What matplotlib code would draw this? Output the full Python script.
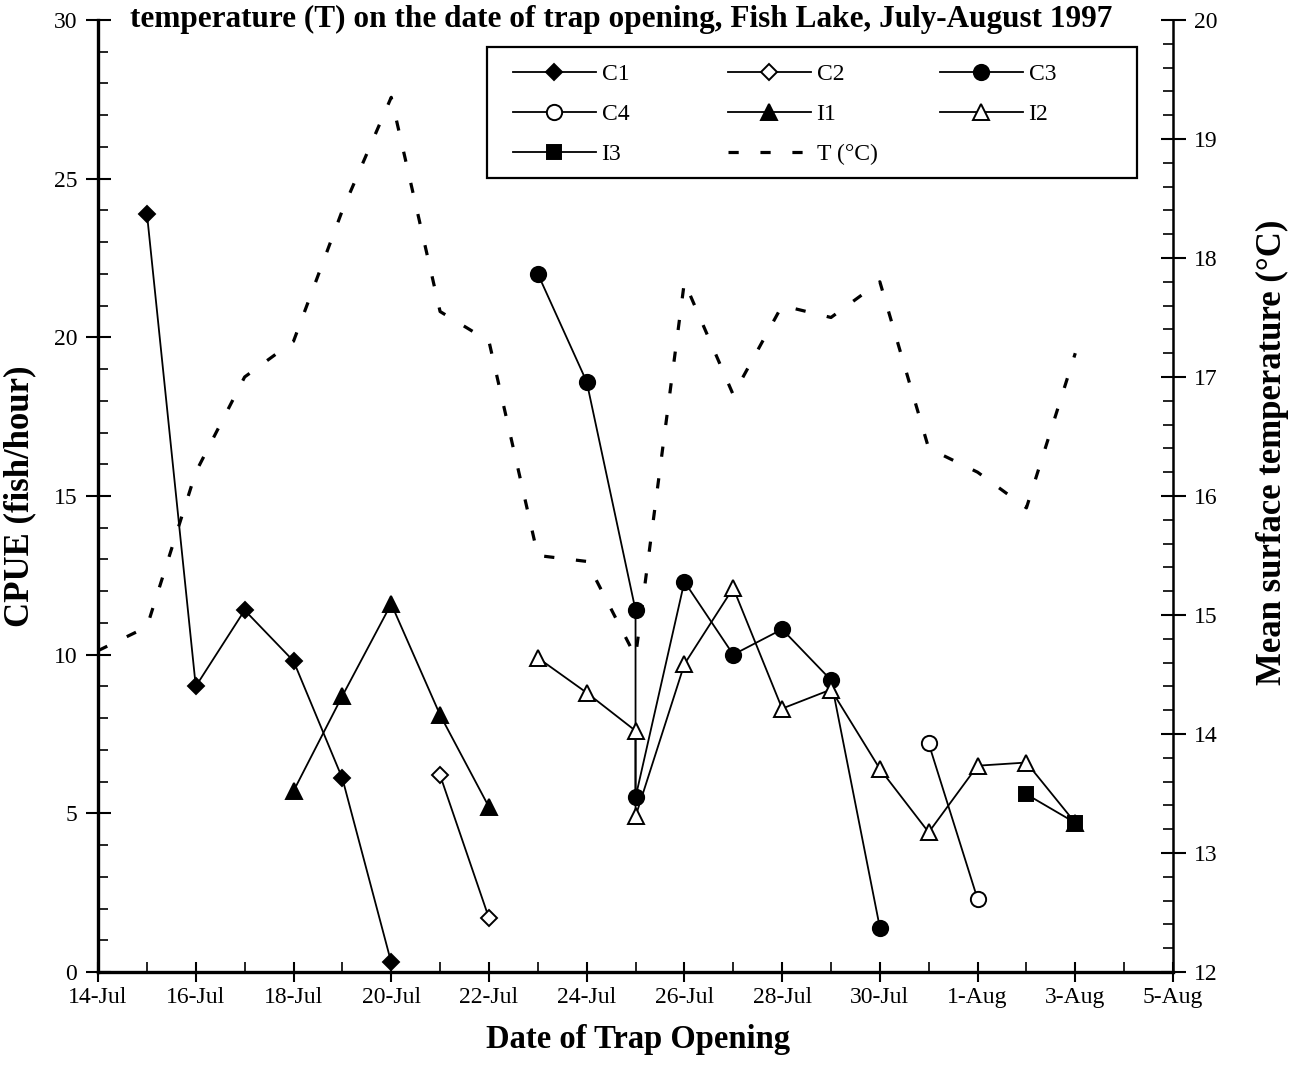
import matplotlib
matplotlib.use('Agg')
import matplotlib.pyplot as plt
from matplotlib.ticker import MultipleLocator, FixedLocator
from matplotlib.patches import Rectangle
import matplotlib.dates as mdates
import pandas as pd

plt.rcParams['font.family'] = ['Liberation Serif', 'DejaVu Serif']

# CPUE (fish/hour) per trap, by date of trap opening
C1_DATES = ['1997-07-15', '1997-07-16', '1997-07-17', '1997-07-18', '1997-07-19', '1997-07-20']
C1_CPUE = [23.9, 9.0, 11.4, 9.8, 6.1, 0.3]

C2_DATES = ['1997-07-21', '1997-07-22']
C2_CPUE = [6.2, 1.7]

C3_DATES = ['1997-07-23', '1997-07-24', '1997-07-25', '1997-07-25', '1997-07-26',
            '1997-07-27', '1997-07-28', '1997-07-29', '1997-07-30']
C3_CPUE = [22.0, 18.6, 11.4, 5.5, 12.3, 10.0, 10.8, 9.2, 1.4]

C4_DATES = ['1997-07-31', '1997-08-01']
C4_CPUE = [7.2, 2.3]

I1_DATES = ['1997-07-18', '1997-07-19', '1997-07-20', '1997-07-21', '1997-07-22']
I1_CPUE = [5.7, 8.7, 11.6, 8.1, 5.2]

I2_DATES = ['1997-07-23', '1997-07-24', '1997-07-25', '1997-07-25', '1997-07-26',
            '1997-07-27', '1997-07-28', '1997-07-29', '1997-07-30', '1997-07-31',
            '1997-08-01', '1997-08-02', '1997-08-03']
I2_CPUE = [9.9, 8.8, 7.6, 4.9, 9.7, 12.1, 8.3, 8.9, 6.4, 4.4, 6.5, 6.6, 4.7]

I3_DATES = ['1997-08-02', '1997-08-03']
I3_CPUE = [5.6, 4.7]

# mean surface temperature (deg C)
T_DATES = pd.date_range('1997-07-14', '1997-08-03', freq='D')
T_VALUES = [14.7, 14.9, 16.2, 17.0, 17.3, 18.4, 19.35, 17.55, 17.3, 15.5, 15.45,
            14.65, 17.8, 16.85, 17.6, 17.5, 17.8, 16.4, 16.2, 15.9, 17.2]

TICK_DATES = pd.date_range('1997-07-14', '1997-08-05', freq='2D')
TICK_LABELS = [f'{d.day}-{d:%b}' for d in TICK_DATES]

SERIES = [
    ('C1', C1_DATES, C1_CPUE, 'D', True, 8.5),
    ('C2', C2_DATES, C2_CPUE, 'D', False, 8.5),
    ('C3', C3_DATES, C3_CPUE, 'o', True, 11),
    ('C4', C4_DATES, C4_CPUE, 'o', False, 11),
    ('I1', I1_DATES, I1_CPUE, '^', True, 11),
    ('I2', I2_DATES, I2_CPUE, '^', False, 11),
    ('I3', I3_DATES, I3_CPUE, 's', True, 10),
]

fig = plt.figure(figsize=(12.92, 10.86), dpi=100)
fig.patch.set_facecolor('white')
ax = fig.add_axes([0.0759, 0.105, 0.832, 0.8766])
ax2 = ax.twinx()

handles = {}
for name, dates, vals, mk, filled, ms in SERIES:
    line, = ax.plot(pd.to_datetime(dates), vals, color='black', lw=1.3,
                    marker=mk, ms=ms, mfc='black' if filled else 'white',
                    mec='black', mew=1.4, label=name, zorder=3)
    handles[name] = line

t_line, = ax2.plot(T_DATES, T_VALUES, color='black', lw=2.3,
                   linestyle=(0, (3.2, 6.8)), label='T (°C)')
handles['T'] = t_line

# axes ranges and ticks
ax.set_xlim(pd.Timestamp('1997-07-14'), pd.Timestamp('1997-08-05'))
ax.set_ylim(0, 30)
ax2.set_ylim(12, 20)

ax.xaxis.set_major_locator(FixedLocator(mdates.date2num(TICK_DATES)))
ax.set_xticklabels(TICK_LABELS)
ax.xaxis.set_minor_locator(FixedLocator(mdates.date2num(
    pd.date_range('1997-07-14', '1997-08-05', freq='D'))))
ax.yaxis.set_major_locator(MultipleLocator(5))
ax.yaxis.set_minor_locator(MultipleLocator(1))
ax2.yaxis.set_major_locator(MultipleLocator(1))
ax2.yaxis.set_minor_locator(MultipleLocator(0.2))

for a in (ax, ax2):
    a.tick_params(which='major', direction='inout', length=18, width=1.5,
                  labelsize=17, color='black')
    a.tick_params(which='minor', direction='in', length=7, width=1.2)
ax.tick_params(axis='x', which='major', length=14, pad=4)
ax.tick_params(axis='y', which='major', pad=6)
ax2.tick_params(axis='y', which='major', pad=6)

ax.spines['top'].set_visible(False)
ax.spines['right'].set_visible(False)
ax2.spines['top'].set_visible(False)
ax2.spines['left'].set_visible(False)
ax2.spines['bottom'].set_visible(False)
ax.spines['left'].set_linewidth(2.4)
ax.spines['bottom'].set_linewidth(2.4)
ax2.spines['right'].set_linewidth(1.8)

ax.set_xlabel('Date of Trap Opening', fontsize=23.5, fontweight='bold')
ax.xaxis.set_label_coords(0.502, -0.055)
ax.set_ylabel('CPUE (fish/hour)', fontsize=25, fontweight='bold')
ax.yaxis.set_label_coords(-0.057, 0.5)
ax2.set_ylabel('Mean surface temperature (°C)', fontsize=25, fontweight='bold')
ax2.yaxis.set_label_coords(1.077, 0.546)

fig.text(0.4807, 0.982,
         'temperature (T) on the date of trap opening, Fish Lake, July-August 1997',
         ha='center', va='center', fontsize=22.5, fontweight='bold')

# legend box, then one legend per column so the columns sit evenly
ax2.add_patch(Rectangle((0.362, 0.834), 0.6045, 0.1376, transform=ax2.transAxes,
                        facecolor='white', edgecolor='black', lw=1.6,
                        zorder=4, clip_on=False))
columns = [(['C1', 'C4', 'I3'], 0.386), (['C2', 'I1', 'T'], 0.586), (['C3', 'I2'], 0.7833)]
for i, (keys, x0) in enumerate(columns):
    leg = ax2.legend([handles[k] for k in keys], [handles[k].get_label() for k in keys],
                     loc='upper left', bbox_to_anchor=(x0, 0.9538), borderaxespad=0,
                     borderpad=0, fontsize=17, handlelength=3.5, handletextpad=0.25,
                     labelspacing=0.78, numpoints=1, frameon=False)
    leg.set_zorder(5)
    if i < len(columns) - 1:
        # earlier columns would be dropped by the next ax2.legend call
        ax2.add_artist(leg)

fig.savefig('out.png', dpi=100, facecolor='white')
